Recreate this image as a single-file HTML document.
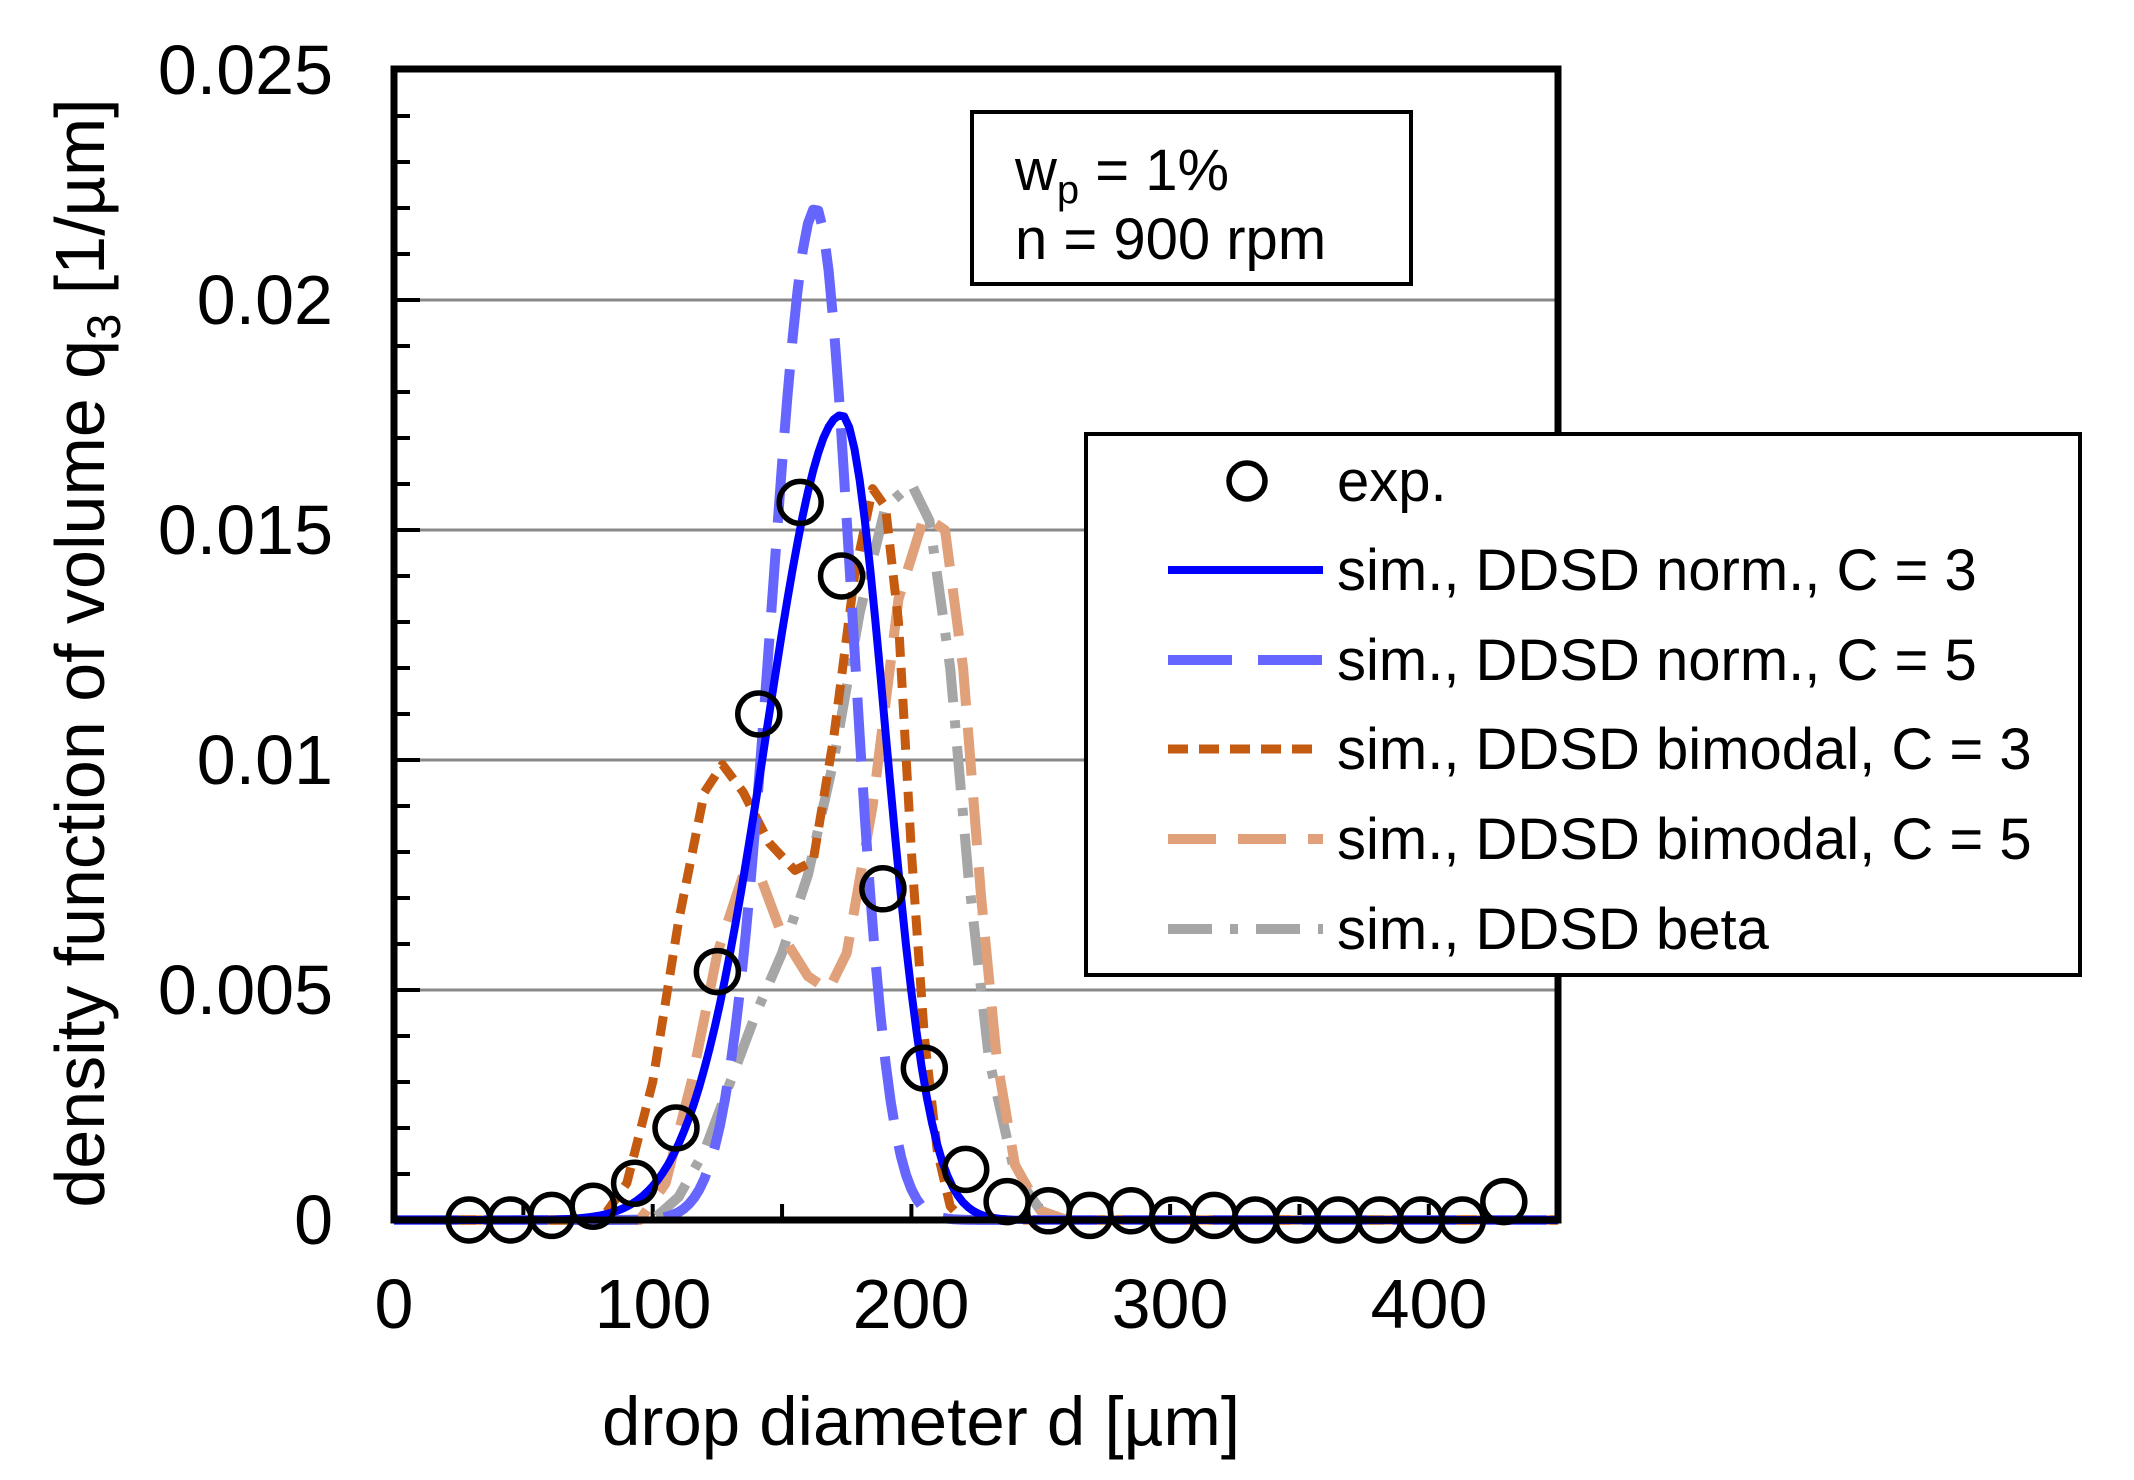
<!DOCTYPE html>
<html><head><meta charset="utf-8"><style>
html,body{margin:0;padding:0;background:#fff;}
svg{display:block;font-family:"Liberation Sans",Arial,sans-serif;}
</style></head><body>
<svg id="s" width="2134" height="1480" viewBox="0 0 2134 1480" xmlns="http://www.w3.org/2000/svg">
<rect width="2134" height="1480" fill="#fff"/>
<g id="grid" stroke="#888" stroke-width="3"></g>
<g id="ticks" stroke="#000" stroke-width="4"></g>
<g id="curves" fill="none" stroke-linejoin="round"></g>
<rect x="394" y="69" width="1164" height="1151" fill="none" stroke="#000" stroke-width="7"/>
<g id="pts" fill="none" stroke="#000" stroke-width="5.5"></g>
<g font-size="70" fill="#000" text-anchor="end">
<text x="333" y="94">0.025</text>
<text x="333" y="324">0.02</text>
<text x="333" y="554">0.015</text>
<text x="333" y="784">0.01</text>
<text x="333" y="1014">0.005</text>
<text x="333" y="1244">0</text>
</g>
<g font-size="70" fill="#000" text-anchor="middle">
<text x="394" y="1328">0</text>
<text x="653" y="1328">100</text>
<text x="911" y="1328">200</text>
<text x="1170" y="1328">300</text>
<text x="1429" y="1328">400</text>
<text x="921" y="1445" font-size="69">drop diameter d [µm]</text>
</g>
<text transform="translate(104,653) rotate(-90)" font-size="70" text-anchor="middle">density function of volume q<tspan font-size="47" dy="16">3</tspan><tspan dy="-16"> [1/µm]</tspan></text>
<rect x="972" y="112" width="439" height="172" fill="#fff" stroke="#000" stroke-width="4"/>
<text x="1015" y="190" font-size="58">w<tspan font-size="40" dy="13">p</tspan><tspan dy="-13"> = 1%</tspan></text>
<text x="1015" y="259" font-size="58">n = 900 rpm</text>
<rect x="1086" y="434" width="994" height="541" fill="#fff" stroke="#000" stroke-width="4"/>
<g id="leg" fill="none"></g>
<g font-size="58" fill="#000">
<text x="1337" y="501">exp.</text>
<text x="1337" y="590">sim., DDSD norm., C = 3</text>
<text x="1337" y="680">sim., DDSD norm., C = 5</text>
<text x="1337" y="769">sim., DDSD bimodal, C = 3</text>
<text x="1337" y="859">sim., DDSD bimodal, C = 5</text>
<text x="1337" y="949">sim., DDSD beta</text>
</g>
</svg>
<script>
var NS="http://www.w3.org/2000/svg";
function X(d){return 394+d*2.587;}
function Y(q){return 1220-q*46000;}
function el(p,t,a){var e=document.createElementNS(NS,t);for(var k in a)e.setAttribute(k,a[k]);document.getElementById(p).appendChild(e);return e;}
for(var i=1;i<5;i++){var y=Y(i*0.005);el("grid","line",{x1:394,x2:1558,y1:y,y2:y});}
for(var i=1;i<25;i++){var y=Y(i*0.001);el("ticks","line",{x1:394,x2:i%5?410:420,y1:y,y2:y});}
for(var d=50;d<450;d+=50){el("ticks","line",{x1:X(d),x2:X(d),y1:1220,y2:1204});}
function gauss(a,m,sl,sr){var p=[];for(var d=0;d<=450;d+=2){var s=d<m?sl:sr;p.push([d,a*Math.exp(-(d-m)*(d-m)/(2*s*s))]);}return p;}
function path(p){return p.map(function(v,i){return (i?"L":"M")+X(v[0]).toFixed(1)+","+Y(v[1]).toFixed(1);}).join(" ");}
var o3=[[0,0],[80,0],[90,0.0008],[100,0.003],[110,0.0065],[120,0.0093],[127,0.0099],[135,0.0093],[145,0.0082],[155,0.0076],[162,0.0078],[170,0.0105],[178,0.014],[185,0.0159],[190,0.0155],[195,0.013],[200,0.008],[205,0.004],[210,0.0015],[215,0.0003],[220,0],[450,0]];
var o5=[[0,0],[95,0],[105,0.0008],[115,0.003],[125,0.0058],[135,0.0075],[142,0.0074],[150,0.0062],[160,0.0053],[168,0.005],[175,0.0058],[185,0.009],[195,0.0135],[205,0.0153],[213,0.015],[220,0.012],[227,0.007],[233,0.0035],[240,0.0012],[250,0.0002],[260,0],[450,0]];
var gb=[[0,0],[100,0],[110,0.0005],[120,0.0015],[130,0.003],[140,0.0045],[150,0.0058],[160,0.0075],[170,0.01],[180,0.0132],[190,0.0155],[200,0.016],[207,0.0152],[215,0.012],[222,0.0075],[230,0.0035],[240,0.001],[250,0.0002],[260,0],[450,0]];
var S=[
 [gb,"#a6a6a6","44 18 8 18",10],
 [o5,"#e0a07a","48 22",10],
 [o3,"#c55a11","20 11",9],
 [gauss(0.022,163,17,14),"#6666ff","64 26",10],
 [gauss(0.0175,173,29,17),"#0000ff","",8]];
S.forEach(function(s){var a={d:path(s[0]),stroke:s[1],"stroke-width":s[3]};if(s[2])a["stroke-dasharray"]=s[2];el("curves","path",a);});
var ex=[0,0,0.0001,0.0003,0.0008,0.002,0.0054,0.011,0.0156,0.014,0.0072,0.0033,0.0011,0.0004,0.0002,0.0001,0.0002,0,0.0001,0,0,0,0,0,0,0.0004];
ex.forEach(function(q,i){el("pts","circle",{cx:X(29+16*i),cy:Y(q),r:21});});
el("leg","circle",{cx:1247,cy:481,r:18,stroke:"#000","stroke-width":5.5});
var ly=[570,660,749,839,929],lc=[["#0000ff","",8],["#6666ff","64 26",10],["#c55a11","20 11",9],["#e0a07a","48 22",10],["#a6a6a6","44 18 8 18",10]];
ly.forEach(function(y,i){var a={x1:1168,x2:1323,y1:y,y2:y,stroke:lc[i][0],"stroke-width":lc[i][2]};if(lc[i][1])a["stroke-dasharray"]=lc[i][1];el("leg","line",a);});
</script>
</body></html>
